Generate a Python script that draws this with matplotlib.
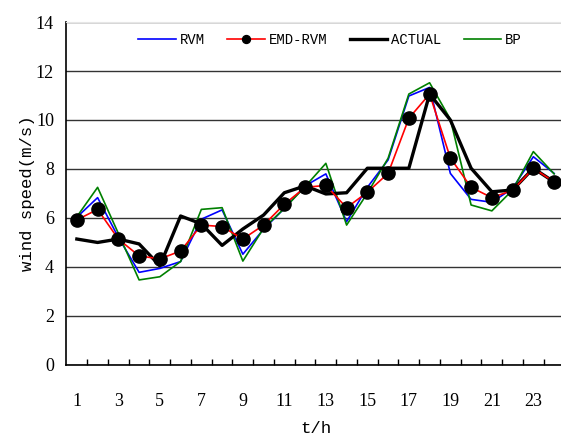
import matplotlib
matplotlib.use("Agg")
import matplotlib.pyplot as plt
from matplotlib.ticker import FixedLocator

plt.rcParams['font.family'] = ['Liberation Serif', 'DejaVu Serif']

hours = list(range(1, 25))

rvm = [6.03, 6.83, 5.21, 3.78, 3.94, 4.22, 5.95, 6.33, 4.52, 5.54, 6.39, 7.31,
       7.80, 5.85, 7.25, 8.37, 10.98, 11.33, 7.82, 6.76, 6.64, 7.21, 8.50, 7.82]
emd_rvm = [5.92, 6.35, 5.14, 4.45, 4.33, 4.65, 5.71, 5.65, 5.14, 5.71, 6.56, 7.25,
           7.33, 6.42, 7.05, 7.82, 10.07, 11.06, 8.45, 7.25, 6.83, 7.13, 8.03, 7.47]
actual = [5.14, 5.00, 5.14, 4.94, 4.05, 6.08, 5.76, 4.88, 5.55, 6.12, 7.03, 7.31,
          6.98, 7.03, 8.03, 8.03, 8.03, 11.06, 10.00, 8.03, 7.07, 7.14, 8.03, 7.47]
bp = [6.05, 7.25, 5.37, 3.47, 3.60, 4.22, 6.35, 6.42, 4.24, 5.58, 6.39, 7.28,
      8.23, 5.71, 7.01, 8.44, 11.06, 11.52, 10.03, 6.53, 6.29, 7.14, 8.71, 7.80]

mono = ['Liberation Mono', 'DejaVu Sans Mono']

fig = plt.figure(figsize=(5.61, 4.36), dpi=100)
ax = fig.add_axes([0.1185, 0.163, 0.8877, 0.7865])

ax.plot(hours, rvm, color='blue', lw=1.2, label='RVM', zorder=3)
ax.plot(hours, emd_rvm, color='red', lw=1.2, marker='o', markersize=9.5,
        markerfacecolor='black', markeredgecolor='black', label='EMD-RVM', zorder=6)
ax.plot(hours, actual, color='black', lw=2.4, label='ACTUAL', zorder=5)
ax.plot(hours, bp, color='green', lw=1.2, label='BP', zorder=4)

ax.set_xlim(0.5, 24.5)
ax.set_ylim(0, 14)
ax.set_yticks(range(0, 15, 2))
ax.set_xticks(range(1, 24, 2))
# small inward ticks between the hour labels
ax.xaxis.set_minor_locator(FixedLocator([h + 0.5 for h in range(1, 24)]))
ax.tick_params(axis='x', which='major', length=0, pad=20, labelsize=13)
ax.tick_params(axis='x', which='minor', direction='in', length=4, width=1)
ax.tick_params(axis='y', length=0, pad=9, labelsize=13)

ax.grid(axis='y', color='#333333', lw=1)
ax.set_axisbelow(True)
ax.spines['right'].set_visible(False)
ax.spines['top'].set_color('#e6e6e6')
ax.spines['left'].set_linewidth(1.2)
ax.spines['bottom'].set_linewidth(1.2)

ax.set_xlabel('t/h', fontsize=12.5, family=mono, labelpad=8)
ax.set_ylabel('wind speed(m/s)', fontsize=12.5, family=mono)
ax.yaxis.set_label_coords(-0.063, 0.5)

leg = fig.legend(*ax.get_legend_handles_labels(), loc='center left',
                 bbox_to_anchor=(138 / 561, 1 - 40 / 436), ncol=4, frameon=False,
                 prop={'family': mono, 'size': 10}, handlelength=2.7,
                 columnspacing=1.6, handletextpad=0.3, borderpad=0,
                 borderaxespad=0, markerscale=0.6)

fig.savefig('out.png', dpi=100)
